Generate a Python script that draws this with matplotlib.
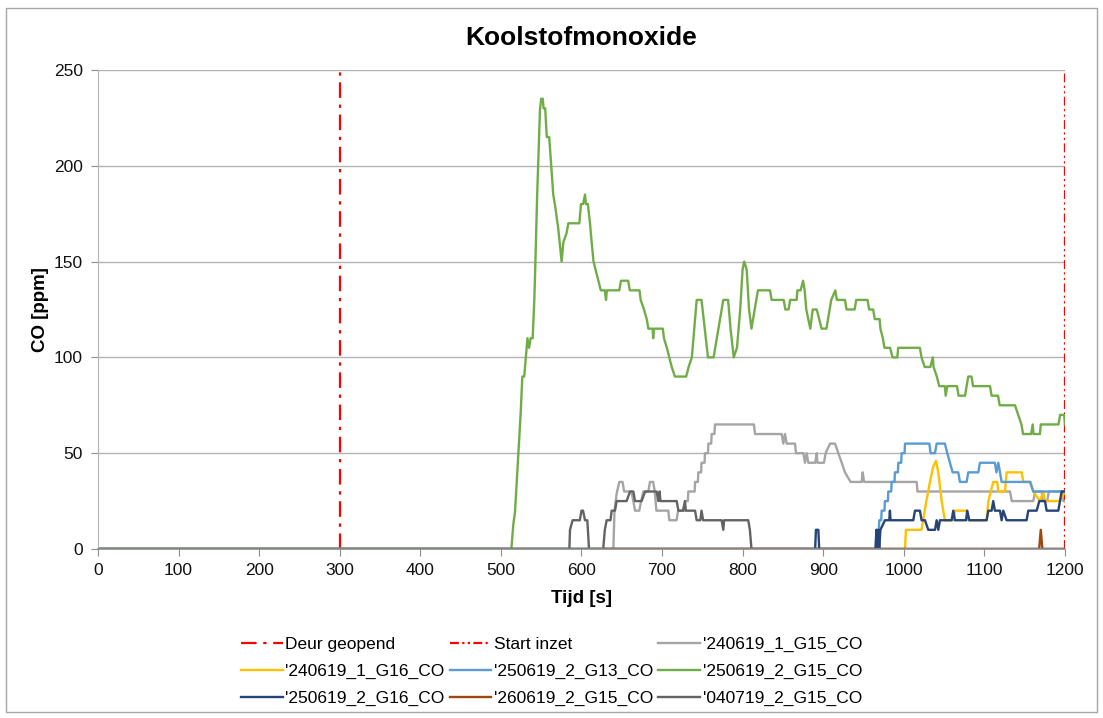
"""
Koolstofmonoxide
----------------

"""
import matplotlib
matplotlib.use('agg')
import matplotlib.pyplot as plt
from matplotlib.patches import Rectangle

plt.rcParams['font.family'] = ['Liberation Sans', 'DejaVu Sans']

# time [s] / CO [ppm] pairs
t_240619_1_g15 = [0, 639.6, 641, 643.7, 647, 651, 653, 662, 664.4, 666.5, 671.8, 674, 676.8, 683, 685, 689, 691,
                  693, 707.8, 709, 718, 720, 728, 728.5, 732, 732.6, 740.5, 741, 744.5, 745, 748.5, 749, 752.8,
                  753.3, 757, 757.5, 761, 761.6, 765, 765.7,
                  814, 815.4, 848.5, 850.5, 852.6, 854.7, 865, 866.3, 875.4, 877.4, 879.5, 881.6, 890, 892, 892.8,
                  901, 903, 908.5, 914.7, 918.8, 923, 927, 934, 947.8, 949, 950.7, 1016, 1017, 1131.8, 1134,
                  1160.7, 1163, 1171, 1173, 1178, 1180, 1196, 1198, 1200]
co_240619_1_g15 = [0, 0, 20, 29, 35, 35, 30, 30, 25, 20, 20, 25, 30, 30, 35, 35, 30,
                   20, 20, 15, 15, 20, 20, 25, 25, 30, 30, 35, 35, 40, 40, 45, 45,
                   50, 50, 55, 55, 60, 60, 65,
                   65, 60, 60, 55, 60, 55, 55, 50, 50, 45, 50, 45, 45, 50, 45,
                   45, 50, 55, 55, 50, 45, 40, 35, 35, 40, 35, 35, 30, 30, 25,
                   25, 30, 30, 25, 25, 30, 30, 25, 25]

t_240619_1_g16 = [0, 1001.5, 1002.7, 1022, 1024, 1028, 1032.5, 1036.6, 1040, 1042.8, 1047, 1051, 1061.4, 1063.5,
                  1078, 1080, 1102.8, 1105, 1111, 1116, 1117.3, 1125.6, 1127.6, 1146.3, 1148.3, 1157.4,
                  1160.7, 1169, 1173, 1175.2, 1193.8, 1200]
co_240619_1_g16 = [0, 0, 10, 10, 15, 25, 35, 43, 46, 40, 25, 15, 15, 20,
                   20, 15, 15, 25, 35, 35, 30, 30, 40, 40, 35, 35,
                   30, 25, 30, 25, 25, 30]

t_250619_2_g13 = [0, 965, 966.3, 969, 969.6, 972, 972.5, 976, 976.6, 980.3, 980.8, 984.4, 984.9, 988.5, 989,
                  992.7, 993.2, 996.8, 997.3, 1001, 1001.5, 1031.7, 1033.3,
                  1038.7, 1040.8, 1051, 1054, 1057.3, 1060.6, 1067.6, 1069.7, 1078, 1080, 1092.5, 1094.5,
                  1113, 1115, 1117.3, 1119.4, 1121.4, 1156.6, 1160.7, 1200]
co_250619_2_g13 = [0, 0, 10, 10, 15, 15, 20, 20, 25, 25, 30, 30, 35, 35, 40,
                   40, 45, 45, 50, 50, 55, 55, 50,
                   50, 55, 55, 50, 45, 40, 40, 35, 35, 40, 40, 45,
                   45, 40, 45, 40, 35, 35, 30, 30]

t_250619_2_g15 = [0, 513, 515.5, 517.5, 521.7, 524.6, 526.6, 529, 531, 533, 535, 537, 539.5, 541.5, 542.3, 545,
                  548.5, 550, 552, 553, 555, 557, 560, 565, 567, 571, 575.4, 577.5, 581.6, 583.7, 597.4,
                  599.4, 602, 604.4, 605.6, 608, 610.6, 612.7, 615, 618, 621, 624, 629, 630.5, 631.5, 647,
                  649, 658, 660, 672, 673.5, 677.6, 681, 683, 688.4, 689, 690, 701, 702.4, 706, 709, 712,
                  716, 730, 733, 737, 739, 743, 749, 753, 757, 764, 770, 776, 782, 785, 789, 793, 797, 800,
                  802, 805, 808, 811, 815, 819, 834, 836, 851, 853, 857, 859, 867, 868, 872, 875, 877, 879,
                  884, 887, 892, 895, 898, 904, 908, 910, 915, 917, 927, 929, 939, 941, 955, 957, 962, 964,
                  970, 971, 974, 976, 983, 986, 992, 993, 1020, 1022, 1026, 1033, 1036, 1037, 1041, 1044,
                  1051, 1052, 1054, 1066, 1068, 1076, 1078, 1080, 1084, 1086, 1107, 1109, 1117, 1119, 1138,
                  1142, 1146, 1148, 1158, 1160, 1161, 1169, 1170, 1192, 1194, 1199, 1200]
co_250619_2_g15 = [0, 0, 13, 19, 50, 71, 90, 90, 100, 110, 105, 110, 110, 130, 141, 184,
                   229, 235, 235, 230, 230, 215, 215, 185, 180, 168, 150, 160, 165, 170, 170,
                   180, 180, 185, 180, 180, 170, 160, 150, 145, 140, 135, 135, 130, 135, 135,
                   140, 140, 135, 135, 130, 125, 120, 115, 115, 110, 115, 115, 110, 105, 100, 95,
                   90, 90, 95, 100, 110, 130, 130, 115, 100, 100, 115, 130, 130, 115, 100, 105, 125, 146,
                   150, 146, 125, 115, 125, 135, 135, 130, 130, 125, 125, 130, 130, 135, 135, 140, 135, 125,
                   115, 125, 125, 120, 115, 115, 125, 130, 135, 130, 130, 125, 125, 130, 130, 125, 125, 120,
                   120, 115, 110, 105, 105, 100, 100, 105, 105, 100, 95, 95, 100, 95, 90, 85,
                   85, 80, 85, 85, 80, 80, 85, 90, 90, 85, 85, 80, 80, 75, 75,
                   70, 65, 60, 60, 65, 60, 60, 65, 65, 70, 70, 65]

t_250619_2_g16 = [0, 890, 891, 894, 895, 965, 966, 967, 968.5, 969.5, 971, 976.6, 982, 982.8, 983.6, 1011.8,
                  1013.9, 1020, 1022.1, 1026.3, 1030.4, 1038.7, 1040.8, 1042.8, 1044.9, 1059.4, 1061.4,
                  1063.5, 1077.2, 1078.8, 1081.3, 1102.8, 1104.9, 1109, 1111, 1113.1, 1119.4, 1121.4,
                  1123.5, 1127.6, 1152.4, 1154.5, 1164.9, 1168.2, 1175.2, 1177.3, 1191.8, 1193.8, 1195.9, 1200]
co_250619_2_g16 = [0, 0, 10, 10, 0, 0, 10, 0, 10, 0, 10, 15, 15, 20, 15, 15,
                   20, 20, 15, 15, 10, 10, 15, 10, 15, 15, 20,
                   15, 15, 20, 15, 15, 20, 20, 25, 20, 20, 15,
                   20, 15, 15, 20, 20, 25, 25, 20, 20, 25, 30, 30]

t_260619_2_g15 = [628, 1168, 1170, 1172, 1200]
co_260619_2_g15 = [0, 0, 10, 0, 0]

t_040719_2_g15 = [0, 585, 585.8, 589, 598, 600, 602, 604.4, 607.3, 609.4, 627, 629, 631.3, 636, 637.5, 641.6,
                  643.7, 656, 660.3, 664.4, 666.5, 674.7, 679, 693.3, 695.4, 697, 698, 718.2, 720.3, 726,
                  728.5, 729.5, 741, 743, 747.5, 749, 751, 774, 776, 777, 807, 809, 811, 1200]
co_040719_2_g15 = [0, 0, 10, 15, 15, 20, 20, 15, 15, 0, 0, 10, 15, 15, 20, 20,
                   25, 25, 30, 30, 25, 25, 30, 30, 25, 30, 25, 25, 20, 20,
                   25, 20, 20, 15, 15, 20, 15, 15, 10, 15, 15, 10, 0, 0]

deur_geopend = 300
start_inzet = 1200

series = [
    ("'240619_1_G15_CO", t_240619_1_g15, co_240619_1_g15, '#A5A5A5'),
    ("'240619_1_G16_CO", t_240619_1_g16, co_240619_1_g16, '#FFC000'),
    ("'250619_2_G13_CO", t_250619_2_g13, co_250619_2_g13, '#5B9BD5'),
    ("'250619_2_G15_CO", t_250619_2_g15, co_250619_2_g15, '#70AD47'),
    ("'250619_2_G16_CO", t_250619_2_g16, co_250619_2_g16, '#264478'),
    ("'260619_2_G15_CO", t_260619_2_g15, co_260619_2_g15, '#9E480E'),
    ("'040719_2_G15_CO", t_040719_2_g15, co_040719_2_g15, '#636363'),
]

fig = plt.figure(figsize=(11.03, 7.18), dpi=100)
ax = fig.add_axes([0.0888, 0.2354, 0.8767, 0.6671])

# event markers
h_deur, = ax.plot([deur_geopend, deur_geopend], [0, 250], color='#FF0000', lw=1.6,
                  dashes=(7, 3, 1.5, 3), label='Deur geopend')
h_start, = ax.plot([start_inzet, start_inzet], [0, 250], color='#FF0000', lw=1.6,
                   dashes=(4, 1.5, 1, 1.5, 1, 1.5), label='Start inzet')

handles = [h_deur, h_start]
for name, t, co, color in series:
    h, = ax.plot(t, co, color=color, lw=1.7, label=name, solid_joinstyle='round')
    handles.append(h)

ax.set_xlim(0, 1200)
ax.set_ylim(0, 250)
ax.set_xticks(range(0, 1201, 100))
ax.set_yticks(range(0, 251, 50))
ax.yaxis.grid(True, color='#B3B3B3', lw=1)
ax.set_axisbelow(True)
for side in ['top', 'right']:
    ax.spines[side].set_visible(False)
ax.spines['left'].set_color('#B3B3B3')
ax.spines['bottom'].set_color('#8C8C8C')
ax.spines['bottom'].set_linewidth(1.2)
ax.tick_params(axis='both', labelsize=12.5, colors='#8C8C8C', labelcolor='#111111',
               length=5, direction='out')
ax.tick_params(axis='x', pad=5)
ax.tick_params(axis='y', pad=6)

ax.set_title('Koolstofmonoxide', fontsize=19, fontweight='bold', pad=18)
ax.set_xlabel('Tijd [s]', fontsize=13.5, fontweight='bold', labelpad=9)
ax.set_ylabel('CO [ppm]', fontsize=13.5, fontweight='bold', labelpad=3)

# legend is filled row by row in the original
order = [0, 3, 6, 1, 4, 7, 2, 5, 8]
fig.legend([handles[i] for i in order], [handles[i].get_label() for i in order],
           loc='upper center', bbox_to_anchor=(0.5, 0.135), ncol=3, frameon=False,
           fontsize=12.5, handlelength=2.4, handletextpad=0.15, columnspacing=0.3,
           labelspacing=0.68)

# chart border
fig.patches.append(Rectangle((0.0055, 0.008), 0.989, 0.981, transform=fig.transFigure,
                             fill=False, edgecolor='#A6A6A6', lw=1))

fig.savefig('out.png', dpi=100)
